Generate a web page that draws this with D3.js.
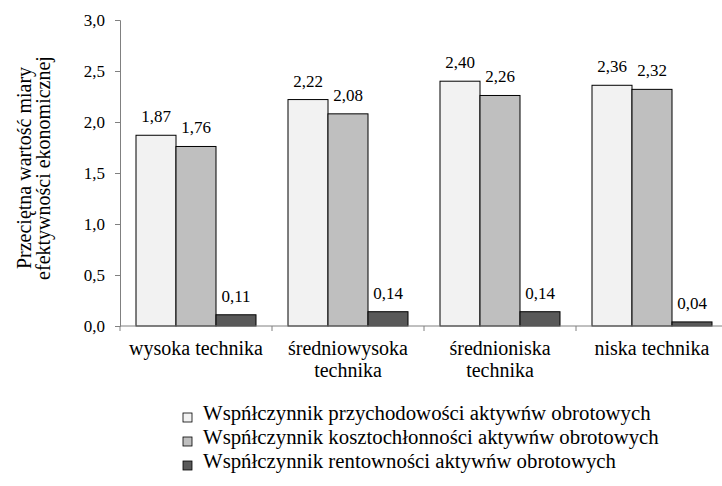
<!DOCTYPE html>
<html>
<head>
<meta charset="utf-8">
<script src="https://cdn.jsdelivr.net/npm/d3@7"></script>
<style>
  body { margin: 0; background: #fff; }
</style>
</head>
<body>
<svg></svg>
<script>
const categories = [["wysoka technika"], ["średniowysoka", "technika"], ["średnioniska", "technika"], ["niska technika"]];
const seriesNames = [
  "Wspńłczynnik przychodowości aktywńw obrotowych",
  "Wspńłczynnik kosztochłonności aktywńw obrotowych",
  "Wspńłczynnik rentowności aktywńw obrotowych"
];
const przychodowosc = [1.87, 2.22, 2.40, 2.36];
const kosztochlonnosc = [1.76, 2.08, 2.26, 2.32];
const rentownosc = [0.11, 0.14, 0.14, 0.04];
const yTicks = [0, 0.5, 1.0, 1.5, 2.0, 2.5, 3.0];
const colors = ["#f2f2f2", "#bfbfbf", "#595959"];

const width = 722, height = 486;
const FONT = "Liberation Serif";
const svg = d3.select("svg").attr("width", width).attr("height", height);

const margin = { left: 120, top: 20, bottom: 160 };
const fmt = v => d3.format(".2f")(v).replace(".", ",");

const x = d3.scaleBand().domain(d3.range(categories.length)).range([margin.left, margin.left + 152 * 4]);
const xInner = d3.scaleBand().domain(d3.range(3)).range([16, 152 - 16]);
const y = d3.scaleLinear().domain([0, 3]).range([height - margin.bottom, margin.top]);

const series = [przychodowosc, kosztochlonnosc, rentownosc];

// y axis
const yAxis = d3.axisLeft(y).tickValues(yTicks).tickSize(5).tickPadding(10)
  .tickFormat(d => d3.format(".1f")(d).replace(".", ","));
const gy = svg.append("g").attr("transform", `translate(${margin.left},0)`).call(yAxis);
gy.selectAll("text").attr("fill", "#000").attr("font-family", FONT).attr("font-size", 17);
gy.selectAll("line, path").attr("stroke", "#808080");

// bars
series.forEach((vals, si) => {
  const g = svg.append("g");
  g.selectAll("rect").data(vals).join("rect")
    .attr("x", (d, i) => x(i) + xInner(si))
    .attr("y", d => y(d))
    .attr("width", xInner.bandwidth())
    .attr("height", d => y(0) - y(d))
    .attr("fill", colors[si])
    .attr("stroke", "#000")
    .attr("stroke-width", 1);
  g.selectAll("text").data(vals).join("text")
    .attr("x", (d, i) => x(i) + xInner(si) + xInner.bandwidth() / 2)
    .attr("y", d => y(d) - 13)
    .attr("text-anchor", "middle")
    .attr("font-family", FONT)
    .attr("font-size", 17)
    .text(d => fmt(d));
});

// x axis
svg.append("line")
  .attr("x1", margin.left).attr("x2", width)
  .attr("y1", y(0)).attr("y2", y(0))
  .attr("stroke", "#808080");
svg.append("g").selectAll("line").data(d3.range(categories.length + 1)).join("line")
  .attr("x1", d => margin.left + 152 * d).attr("x2", d => margin.left + 152 * d)
  .attr("y1", y(0)).attr("y2", y(0) + 5)
  .attr("stroke", "#808080");

svg.append("g").selectAll("text").data(categories).join("text")
  .attr("x", (d, i) => x(i) + x.bandwidth() / 2)
  .attr("y", y(0) + 29)
  .attr("text-anchor", "middle")
  .attr("font-family", FONT)
  .attr("font-size", 20)
  .each(function(d) {
    d3.select(this).selectAll("tspan").data(d).join("tspan")
      .attr("x", d3.select(this).attr("x"))
      .attr("dy", (t, j) => j === 0 ? 0 : 22)
      .text(t => t);
  });

// y label
svg.append("text")
  .attr("transform", `translate(31,168) rotate(-90)`)
  .attr("text-anchor", "middle")
  .attr("font-family", FONT)
  .attr("font-size", 20)
  .selectAll("tspan").data(["Przeciętna wartość miary", "efektywności ekonomicznej"]).join("tspan")
  .attr("x", 0)
  .attr("dy", (t, j) => j === 0 ? 0 : 19)
  .text(t => t);

// legend
const legend = svg.append("g").selectAll("g").data(seriesNames).join("g")
  .attr("transform", (d, i) => `translate(183,${413 + i * 24})`);
legend.append("rect").attr("width", 9).attr("height", 9)
  .attr("fill", (d, i) => colors[i]).attr("stroke", "#000").attr("stroke-width", 0.8);
legend.append("text").attr("x", 20).attr("y", 7)
  .attr("font-family", FONT).attr("font-size", 20.8).text(d => d);
</script>
</body>
</html>
